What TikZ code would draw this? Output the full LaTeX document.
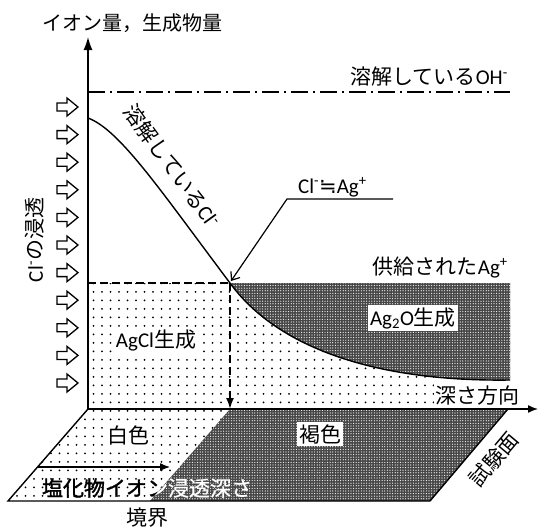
\documentclass[tikz,border=0pt]{standalone}
\usepackage{fontspec}
\setmainfont{Noto Sans CJK JP}
\newfontfamily\lat{Carlito}
\newfontfamily\sym{DejaVu Sans}
\newfontfamily\jb[FakeBold=1.5]{Noto Sans CJK JP}
\usetikzlibrary{arrows.meta,patterns.meta}
\begin{document}
\begin{tikzpicture}[x=1pt,y=-1pt,
  lbl/.style={font=\fontsize{21}{23}\selectfont, inner sep=0pt},
  wbox/.style={lbl, fill=white, inner sep=2pt},
  dotfill/.style={pattern={Dots[radius=1pt,distance=8.5pt]}, pattern color=black},
  darkfill/.style={fill=black!72, postaction={pattern={Dots[radius=0.6pt,distance=2.6pt]}, pattern color=white}},
  ln/.style={line width=1.4pt},
  dashln/.style={line width=1.8pt, dash pattern=on 8pt off 4pt},
  blockarrow/.style={draw, line width=1.3pt, fill=white, line join=miter}
]
\useasboundingbox (0,0) rectangle (539,530);
% key points
\coordinate (O) at (88,409);
\coordinate (Ytop) at (88,37);
\coordinate (Xend) at (538,409);
\coordinate (P) at (230,283);
\coordinate (Pb) at (230,409);
\coordinate (Dl) at (88,283);
\coordinate (Dr) at (510,283);
\coordinate (Cend) at (510,380);
\coordinate (Fbl) at (8,501);
\coordinate (Fbm) at (150,501);
\coordinate (Fbr) at (430,501);
\coordinate (Ftr) at (508,409);
\coordinate (ClS) at (88,118);
\coordinate (OHl) at (88,92);
\coordinate (OHr) at (510,92);
\coordinate (Lr) at (393,199);
\coordinate (Lk) at (287,199);
\coordinate (Lt) at (231,281);
\coordinate (Fa) at (38,467);
\coordinate (Fb) at (170,467);
% AgCl dotted region
\fill[white] (Dl) rectangle (510,409);
\path[dotfill] (Dl) rectangle (510,409);
% Ag2O dark region
\path[darkfill] (P) -- (Dr) -- (Cend) .. controls (370,382) and (275,345) .. (P) -- cycle;
\draw[ln] (Cend) .. controls (370,382) and (275,345) .. (P);
% floor
\path[dotfill] (O) -- (Pb) -- (Fbm) -- (Fbl) -- cycle;
\path[darkfill] (Pb) -- (Ftr) -- (Fbr) -- (Fbm) -- cycle;
\draw[ln] (O) -- (Fbl) -- (Fbr) -- (Ftr);
% dashed boundary and arrow
\draw[dashln] (Dl) -- (P);
\draw[dashln, -{Latex[length=11pt,width=8pt]}] (P) -- (Pb);
% Cl- curve
\draw[ln] (ClS) .. controls (120,130) and (160,190) .. (P);
% OH- line
\draw[line width=1.5pt, dash pattern=on 17pt off 5pt on 2pt off 5pt] (OHl) -- (OHr);
% axes
\draw[ln, -{Latex[length=13pt,width=9pt]}] (O) -- (Ytop);
\draw[ln, -{Latex[length=10pt,width=8pt]}] (O) -- (Xend);
% leader
\draw[line width=1.2pt, -{Straight Barb[length=7pt,width=11pt]}] (Lr) -- (Lk) -- (Lt);
% floor arrow
\draw[line width=1.3pt, -{Latex[length=10pt,width=8pt]}] (Fa) -- (Fb);
% block arrows
\foreach \i in {0,...,10}{
  \pgfmathsetmacro\c{107+27.6*\i}
  \draw[blockarrow] (57,{\c-4}) -- (67,{\c-4}) -- (67,{\c-9}) -- (78,\c) -- (67,{\c+9}) -- (67,{\c+4}) -- (57,{\c+4}) -- cycle;
}
% labels
\node[lbl, font=\fontsize{20}{22}\selectfont, anchor=west] (title) at (42,23) {イオン量，生成物量};
\node[lbl, anchor=east] (ohlbl) at (508,77) {溶解している{\lat OH\textsuperscript{-}}};
\node[lbl, rotate=-54] (cllbl) at (172,166) {溶解している{\lat Cl\textsuperscript{-}}};
\node[lbl, anchor=west] (eq) at (298,187) {{\lat Cl\textsuperscript{-}}{\sym ≒}{\lat Ag\textsuperscript{+}}};
\node[lbl, anchor=east] (ag) at (508,267) {供給された{\lat Ag\textsuperscript{+}}};
\node[wbox] (ag2o) at (413,318) {{\lat Ag\textsubscript{2}O}生成};
\node[wbox] (agcl) at (156,340) {{\lat AgCl}生成};
\node[wbox, anchor=east] (depth) at (522,396) {深さ方向};
\node[wbox] (white) at (128,435) {白色};
\node[wbox] (brown) at (320,434) {褐色};
\node[lbl, rotate=50] (test) at (494,459) {試験面};
\node[lbl] (bound) at (147,518) {境界};
\node[lbl, rotate=90] (pen) at (35,240) {{\lat Cl\textsuperscript{-}}の浸透};
\node[lbl, font=\fontsize{21}{23}\jb] (depthtxt) at (147,488) {塩化物イオン浸透深さ};
\begin{scope}
  \clip (Pb) -- (Ftr) -- (Fbr) -- (Fbm) -- cycle;
  \node[lbl, font=\fontsize{21}{23}\jb, text=white] (depthtxtw) at (147,488) {塩化物イオン浸透深さ};
\end{scope}
\end{tikzpicture}
\end{document}
